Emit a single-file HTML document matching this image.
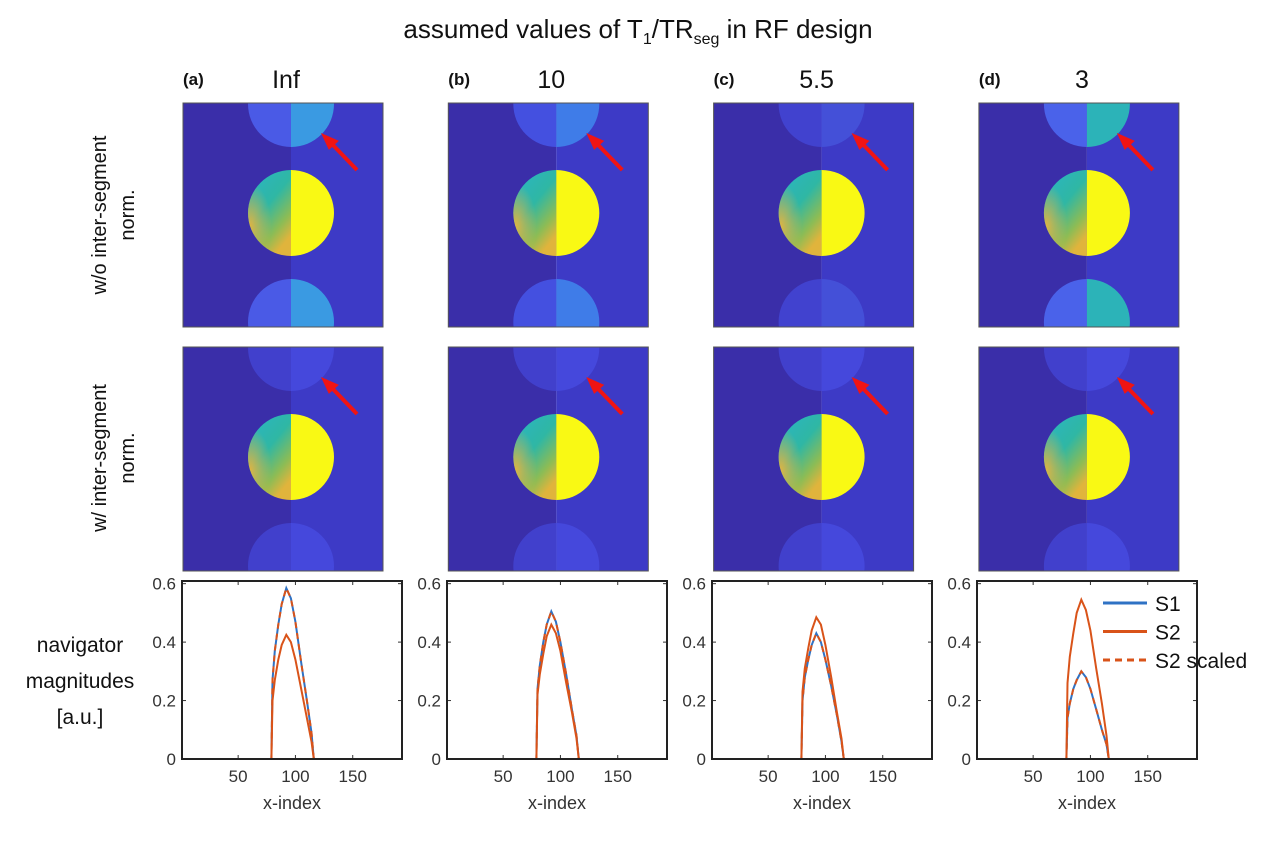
<!DOCTYPE html>
<html><head><meta charset="utf-8"><style>
body{margin:0;background:#fff;width:1275px;height:847px;overflow:hidden;font-family:"Liberation Sans",sans-serif}
svg{display:block}
</style></head><body>
<svg id="fig" width="1275" height="847" viewBox="0 0 1275 847" xmlns="http://www.w3.org/2000/svg">
<defs>
<linearGradient id="lh" x1="0" y1="0" x2="0.6" y2="1">
<stop offset="0" stop-color="#2ab4c6"/><stop offset="0.5" stop-color="#2fb7a4"/><stop offset="0.8" stop-color="#8cbc55"/><stop offset="1" stop-color="#e0b43c"/>
</linearGradient>
<radialGradient id="orng" cx="0.05" cy="0.65" r="0.5">
<stop offset="0" stop-color="#f0b43a" stop-opacity="0.9"/><stop offset="1" stop-color="#f0b43a" stop-opacity="0"/>
</radialGradient>
</defs>
<text x="638" y="38" text-anchor="middle" font-size="26" fill="#111">assumed values of T<tspan font-size="16" dy="6">1</tspan><tspan dy="-6">/TR</tspan><tspan font-size="16" dy="6">seg</tspan><tspan dy="-6"> in RF design</tspan></text>
<g font-size="20" fill="#111">
<text transform="translate(106,215) rotate(-90)" text-anchor="middle">w/o inter-segment</text>
<text transform="translate(134,215) rotate(-90)" text-anchor="middle">norm.</text>
<text transform="translate(106,458) rotate(-90)" text-anchor="middle">w/ inter-segment</text>
<text transform="translate(134,458) rotate(-90)" text-anchor="middle">norm.</text>
</g>
<g font-size="21" fill="#111" text-anchor="middle">
<text x="80" y="652">navigator</text>
<text x="80" y="688">magnitudes</text>
<text x="80" y="724">[a.u.]</text>
</g>
<g id="panels"></g>
</svg>
<script>
const labels=["(a)","(b)","(c)","(d)"];
const values=["Inf","10","5.5","3"];
const xs=[1,79,80,82,85,88,92,96,100,105,110,114,116,192];
const s1=[[0,0,.27,.37,.46,.53,.585,.55,.47,.33,.2,.09,0,0],[0,0,.24,.32,.40,.46,.505,.47,.40,.29,.17,.08,0,0],[0,0,.2,.28,.34,.39,.43,.40,.34,.25,.15,.06,0,0],[0,0,.14,.19,.24,.27,.30,.28,.24,.17,.1,.05,0,0]];
const s2=[[0,0,.2,.27,.34,.39,.425,.40,.34,.24,.14,.06,0,0],[0,0,.22,.29,.36,.42,.46,.43,.37,.26,.16,.07,0,0],[0,0,.23,.31,.38,.44,.485,.46,.39,.28,.16,.07,0,0],[0,0,.26,.35,.43,.50,.545,.51,.44,.31,.19,.08,0,0]];
const s2s=[[0,0,.27,.37,.46,.53,.585,.55,.47,.33,.2,.09,0,0],[0,0,.24,.32,.40,.46,.505,.47,.40,.29,.17,.08,0,0],[0,0,.2,.28,.34,.39,.43,.40,.34,.25,.15,.06,0,0],[0,0,.14,.19,.24,.27,.30,.28,.24,.17,.1,.05,0,0]];
const yTicks=[0,0.2,0.4,0.6];
const xTicks=[50,100,150];
const topColors=[["#4a5ae6","#3a9ae2"],["#4450e0","#3f7ce8"],["#4142cf","#4450d8"],["#4a62ea","#2cb3b8"]];
const NS="http://www.w3.org/2000/svg";
const root=document.getElementById("panels");
function mk(tag,attrs,parent){const e=document.createElementNS(NS,tag);for(const k in attrs)e.setAttribute(k,attrs[k]);(parent||root).appendChild(e);return e;}
for(let c=0;c<4;c++){
  const ox=183+c*265.3;
  const g=mk("g",{});
  
  
  const lt=mk("text",{x:ox,y:85,"font-size":17,"font-weight":"bold",fill:"#111"},g);lt.textContent=labels[c];
  
  
  const vt=mk("text",{x:ox+103,y:88,"font-size":25,"text-anchor":"middle",fill:"#111"},g);vt.textContent=values[c];
  
  
  for(let r=0;r<2;r++){
    const oy=103+r*244,w=200,h=224;
    const ig=mk("g",{},g);
    
    
    const cid="clip"+c+r;
    const cp=mk("clipPath",{id:cid},ig);mk("rect",{x:ox,y:oy,width:w,height:h},cp);
    const inner=mk("g",{"clip-path":"url(#"+cid+")"},ig);
    const cx=ox+108;
    mk("rect",{x:ox,y:oy,width:108,height:h,fill:"#3a2ea9"},inner);
    mk("rect",{x:cx,y:oy,width:w-108,height:h,fill:"#3d3ac6"},inner);
    const tc=r?["#4140cc","#4548dc"]:topColors[c];
    const circ=(cy,col)=>{mk("path",{d:`M${cx},${cy-43} A43,43 0 0 0 ${cx},${cy+43} Z`,fill:col[0]},inner);mk("path",{d:`M${cx},${cy-43} A43,43 0 0 1 ${cx},${cy+43} Z`,fill:col[1]},inner);};
    circ(oy+1,tc);circ(oy+219,tc);
    mk("path",{d:`M${cx},${oy+67} A43,43 0 0 0 ${cx},${oy+153} Z`,fill:"url(#lh)"},inner);
    mk("path",{d:`M${cx},${oy+67} A43,43 0 0 0 ${cx},${oy+153} Z`,fill:"url(#orng)"},inner);
    mk("path",{d:`M${cx},${oy+67} A43,43 0 0 1 ${cx},${oy+153} Z`,fill:"#f9f914"},inner);
    mk("rect",{x:ox,y:oy,width:w,height:h,fill:"none",stroke:"#555",'stroke-width':1},ig);
    const ar=mk("g",{stroke:"#f01414","stroke-width":4,fill:"#f01414"},ig);
    
    
    mk("line",{x1:ox+174,y1:oy+67,x2:ox+148,y2:oy+40},ar);
    mk("polygon",{points:`${ox+139},${oy+31} ${ox+155},${oy+38} ${ox+146},${oy+46}`,"stroke-width":1},ar);
  }
  const px=182+c*265,py=581,pw=220,ph=178;
  const sx=v=>px+(v-1)/(193-1)*pw, sy=v=>py+ph-(v/0.6)*ph*0.985;
  const pg=mk("g",{},g);
  
  
  mk("rect",{x:px,y:py,width:pw,height:ph,fill:"#fff"},pg);
  yTicks.forEach(t=>{const y=sy(t);mk("line",{x1:px,x2:px+4,y1:y,y2:y,stroke:"#333"},pg);mk("line",{x1:px+pw,x2:px+pw-4,y1:y,y2:y,stroke:"#333"},pg);
    const tt=mk("text",{x:px-6,y:y+6,"font-size":17,"text-anchor":"end",fill:"#333"},pg);tt.textContent=t===0?"0":String(t);
    
    });
  xTicks.forEach(t=>{const x=sx(t);mk("line",{x1:x,x2:x,y1:py+ph,y2:py+ph-4,stroke:"#333"},pg);mk("line",{x1:x,x2:x,y1:py,y2:py+4,stroke:"#333"},pg);
    const tt=mk("text",{x:x,y:py+ph+23,"font-size":17,"text-anchor":"middle",fill:"#333"},pg);tt.textContent=t;
    
    });
  const xl=mk("text",{x:px+pw/2,y:809,"font-size":18,"text-anchor":"middle",fill:"#333"},pg);xl.textContent="x-index";
  
  
  const line=(arr,col,dash,name)=>{const d=arr.map((v,i)=>(i?"L":"M")+sx(xs[i]).toFixed(1)+","+sy(v).toFixed(1)).join(" ");
    const p=mk("path",{d,fill:"none",stroke:col,"stroke-width":2,"stroke-dasharray":dash||"none"},pg);
    
    };
  line(s1[c],"#2f72c4",null,"series-s1");
  line(s2[c],"#d95319",null,"series-s2");
  line(s2s[c],"#d95319","6,5","series-s2-scaled");
  mk("rect",{x:px,y:py,width:pw,height:ph,fill:"none",stroke:"#222","stroke-width":2},pg);
  if(c===3){
    const lg=mk("g",{},pg);
    
    
    [["S1","#2f72c4",null],["S2","#d95319",null],["S2 scaled","#d95319","7,5"]].forEach((e,i)=>{
      const y=603+i*28.5;
      mk("line",{x1:1103,x2:1147,y1:y,y2:y,stroke:e[1],"stroke-width":3,"stroke-dasharray":e[2]||"none"},lg);
      const t=mk("text",{x:1155,y:y+8,"font-size":21,fill:"#111"},lg);t.textContent=e[0];
      
      
    });
  }
}
</script>
</body></html>
